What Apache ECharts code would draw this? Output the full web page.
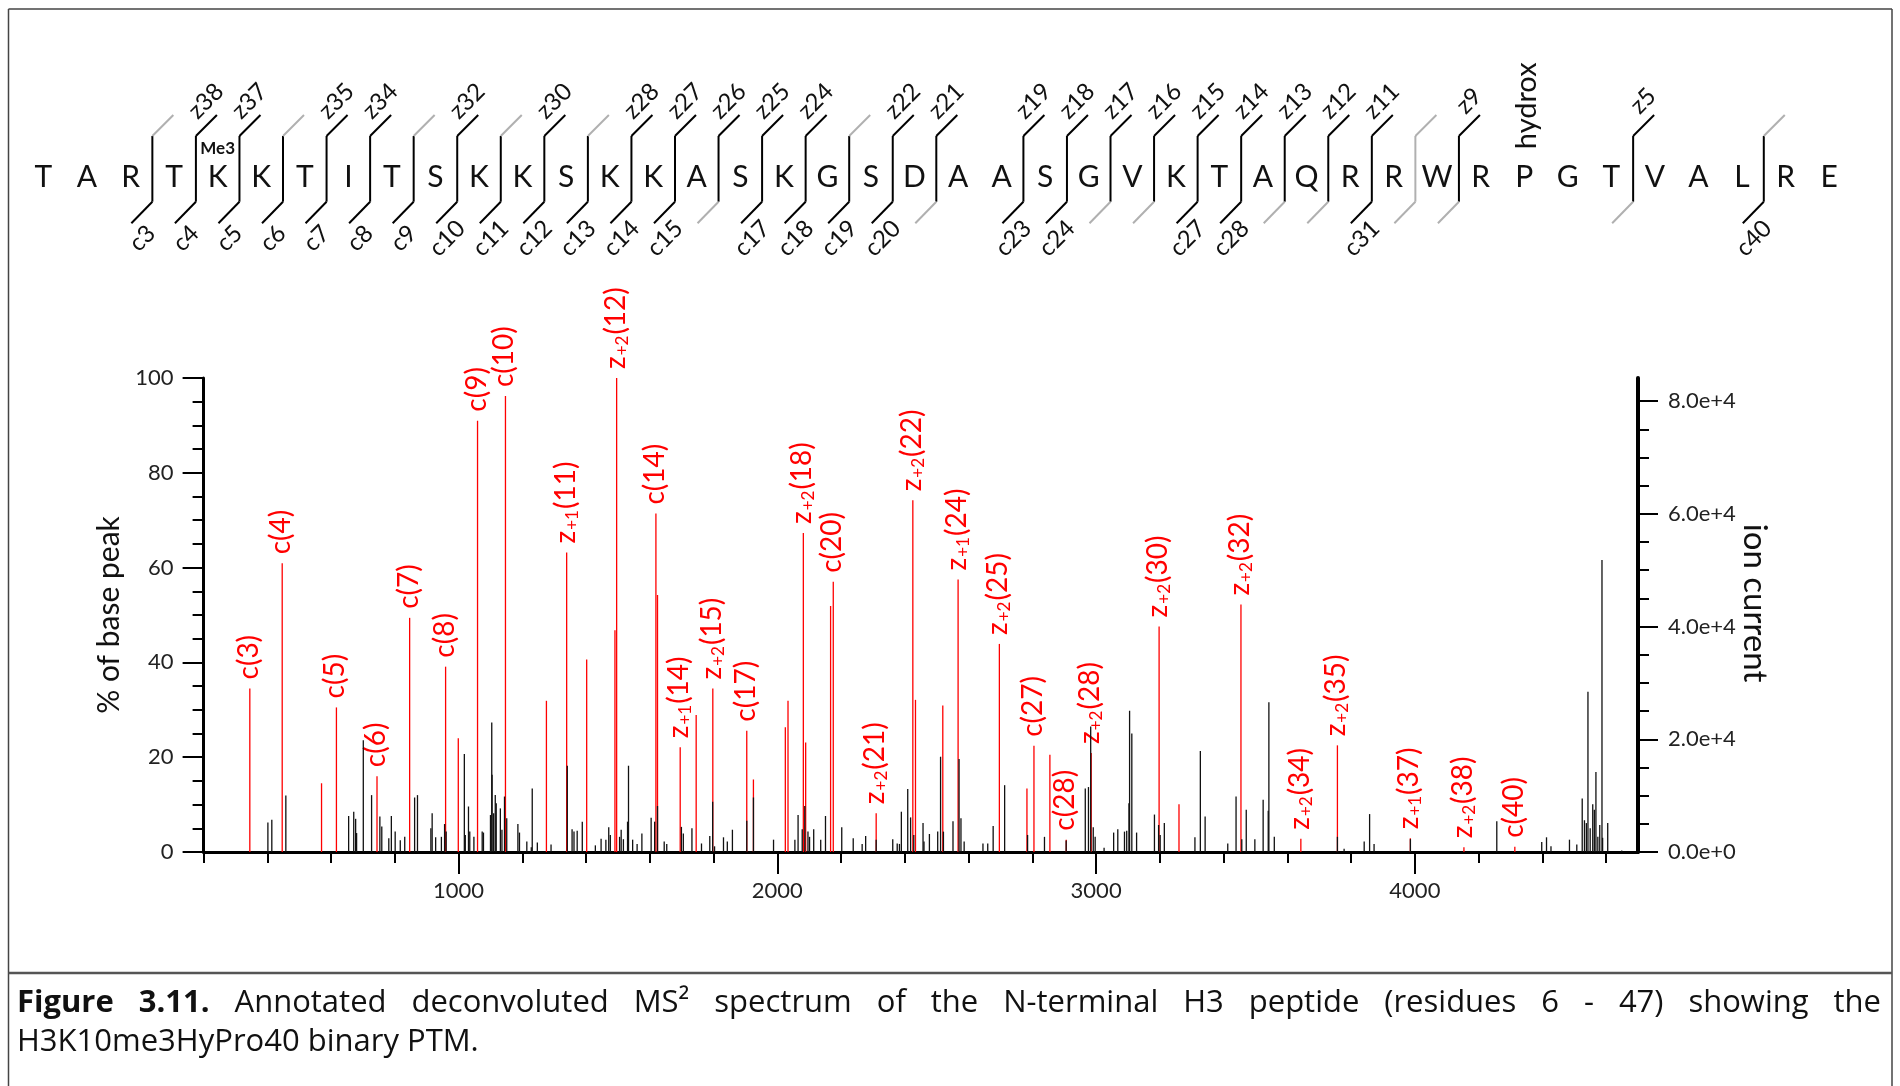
<!DOCTYPE html>
<html>
<head>
<meta charset="utf-8">
<script src="https://cdn.jsdelivr.net/npm/echarts@6/dist/echarts.min.js"></script>
<style>
  html, body { margin: 0; padding: 0; background: #fff; }
  #chart { width: 1900px; height: 1086px; }
</style>
</head>
<body>
<div id="chart"></div>
<script>
// ---- Peptide fragment map (H3 residues 6-47) ----
const residues = 'TARTKKTITSKKSKKASKGSDAASGVKTAQRRWRPGTVALRE'.split('');
const cleavageSites = [3, 4, 5, 6, 7, 8, 9, 10, 11, 12, 13, 14, 15, 16, 17, 18, 19, 20, 21,
  23, 24, 25, 26, 27, 28, 29, 30, 31, 32, 33, 37, 40];
const cIonsFound = [3, 4, 5, 6, 7, 8, 9, 10, 11, 12, 13, 14, 15, 17, 18, 19, 20, 23, 24, 27, 28, 31, 40];
const zIonsFound = [38, 37, 35, 34, 32, 30, 28, 27, 26, 25, 24, 22, 21, 19, 18, 17, 16, 15, 14, 13, 12, 11, 9, 5];
const methylSite = [5];
const methylName = ['Me3'];
const hydroxSite = [35];
const hydroxName = ['hydrox'];

// ---- Annotated (matched) peaks: m/z, % of base peak, annotation ----
const matchedMz = [345, 446.6, 570, 616.7, 744, 846.4, 959.2, 999, 1059.4, 1147, 1275.5, 1339,
  1401.8, 1490.5, 1495.8, 1619, 1624, 1695.2, 1745.3, 1797.5, 1904, 1924.9, 2025, 2033.4,
  2081.5, 2088.8, 2167, 2175.4, 2310, 2425, 2433.3, 2519, 2567, 2696.5, 2783, 2805, 2855,
  2906.3, 2984.6, 3197.6, 3260, 3454.4, 3642.3, 3757, 3985.8, 4153.9, 4313.6];
const matchedPct = [34.5, 60.9, 14.5, 30.5, 16.0, 49.4, 39.1, 24.0, 91.0, 96.2, 31.9, 63.2,
  40.6, 46.8, 100, 71.4, 54.2, 22.1, 28.9, 34.5, 25.6, 15.3, 26.3, 31.9,
  67.3, 23.1, 51.9, 57.0, 8.2, 74.2, 32.1, 30.9, 57.5, 43.9, 13.4, 22.4, 20.5,
  2.6, 20.9, 47.6, 10.1, 52.2, 2.8, 22.5, 2.9, 1.0, 1.1];
const matchedLabel = ['c(3)', 'c(4)', '', 'c(5)', 'c(6)', 'c(7)', 'c(8)', '', 'c(9)', 'c(10)', '', 'z+1(11)',
  '', '', 'z+2(12)', 'c(14)', '', 'z+1(14)', '', 'z+2(15)', 'c(17)', '', '', '',
  'z+2(18)', '', '', 'c(20)', 'z+2(21)', 'z+2(22)', '', '', 'z+1(24)', 'z+2(25)', '', 'c(27)', '',
  'c(28)', 'z+2(28)', 'z+2(30)', '', 'z+2(32)', 'z+2(34)', 'z+2(35)', 'z+1(37)', 'z+2(38)', 'c(40)'];

// ---- Unassigned peaks: m/z, % of base peak ----
const otherMz = [401.7, 414, 458, 655, 671, 677, 680, 701, 727, 753, 759, 781, 789, 801, 817, 831,
  862, 871, 913, 917, 928, 946, 956, 961, 1018, 1021, 1031, 1035, 1048, 1074, 1078, 1100,
  1104, 1105, 1110, 1115, 1118, 1131, 1136, 1144, 1151, 1186, 1191, 1214, 1228, 1231, 1247, 1290,
  1341, 1356, 1362, 1372, 1388, 1429, 1447, 1462, 1471, 1476, 1505, 1510, 1517, 1530, 1533,
  1546, 1560, 1575, 1604, 1615, 1624, 1645, 1653, 1699, 1705, 1732, 1762, 1788, 1797, 1803,
  1831, 1843, 1859, 1904, 1925, 1988, 2055, 2065, 2078, 2086, 2096, 2101, 2114, 2136, 2151,
  2202, 2238, 2266, 2277, 2310, 2362, 2376, 2383, 2389, 2409, 2418, 2428, 2457,
  2460, 2477, 2503, 2512, 2521, 2551, 2570, 2576, 2586, 2645, 2660, 2677, 2713, 2785, 2838,
  2906, 2966, 2976, 2983, 2991, 2997, 3025, 3055, 3068, 3089, 3096, 3103, 3105, 3112, 3127,
  3183, 3196, 3201, 3214, 3310, 3327, 3342, 3413, 3439, 3457, 3471, 3498, 3524, 3540, 3542, 3559,
  3757, 3778, 3841, 3858, 3872, 3986, 4257, 4398, 4413, 4427, 4485, 4508, 4525, 4532, 4538,
  4543, 4550, 4558, 4563, 4568, 4574, 4580, 4587, 4589, 4605, 4649];
const otherPct = [6.2, 6.8, 11.9, 7.6, 8.5, 7.0, 4.0, 23.6, 12.0, 7.5, 5.4, 2.9, 7.6, 4.3, 2.5, 3.2,
  11.5, 12.0, 5.0, 8.2, 3.1, 3.2, 5.9, 4.3, 20.7, 3.6, 9.6, 4.3, 3.2, 4.3, 4.1, 7.8,
  27.3, 16.3, 8.2, 12.0, 10.3, 9.2, 4.7, 11.7, 7.1, 5.9, 4.1, 2.2, 1.0, 13.4, 2.0, 1.6,
  18.2, 4.8, 4.3, 4.5, 6.4, 1.4, 2.8, 2.6, 5.2, 3.6, 3.2, 4.7, 2.7, 6.4, 18.2,
  2.6, 1.7, 3.9, 7.2, 6.4, 9.7, 2.2, 1.7, 5.3, 3.9, 5.0, 1.8, 3.4, 10.6, 1.2,
  3.1, 2.2, 4.7, 6.6, 11.5, 2.6, 2.6, 7.8, 4.8, 9.7, 4.3, 3.2, 4.8, 2.6, 7.6,
  5.2, 2.9, 1.7, 3.4, 2.6, 2.7, 1.8, 1.7, 8.5, 13.3, 7.3, 3.6, 6.1,
  2.2, 3.8, 4.3, 20.1, 4.3, 6.5, 19.6, 7.1, 2.2, 1.8, 1.8, 5.5, 14.1, 3.6, 3.2,
  2.4, 13.4, 13.7, 26.5, 5.2, 3.2, 0.9, 4.1, 4.8, 4.3, 4.5, 10.3, 29.8, 25.0, 4.1,
  7.9, 5.7, 3.6, 6.1, 3.1, 21.3, 7.5, 1.8, 11.7, 2.7, 8.9, 2.7, 11.0, 8.7, 31.6, 3.2,
  3.2, 0.7, 2.2, 8.0, 1.7, 2.7, 6.5, 2.1, 3.1, 1.2, 2.6, 1.6, 11.3, 6.7, 6.1,
  33.8, 5.0, 10.1, 8.9, 16.9, 3.2, 5.7, 61.6, 3.0, 6.1, 0.3];

// ---- Axis ticks and labels ----
const mzMin = 200, mzMax = 4700;
const mzMinorTicks = [200, 400, 600, 800, 1000, 1200, 1400, 1600, 1800, 2000, 2200, 2400,
  2600, 2800, 3000, 3200, 3400, 3600, 3800, 4000, 4200, 4400, 4600];
const mzTickLabels = [1000, 2000, 3000, 4000];
const pctTickLabels = [0, 20, 40, 60, 80, 100];
const currentMax = 84100;
const currentMinorTicks = [0, 5000, 10000, 15000, 20000, 25000, 30000, 35000, 40000,
  45000, 50000, 55000, 60000, 65000, 70000, 75000, 80000];
const currentTickLabels = [0, 20000, 40000, 60000, 80000];

const captionLine1 = ['Figure', '3.11.', 'Annotated', 'deconvoluted', 'MS\u00B2', 'spectrum', 'of', 'the',
  'N-terminal', 'H3', 'peptide', '(residues', '6', '-', '47)', 'showing', 'the'];
const captionLine2 = 'H3K10me3HyPro40 binary PTM.';

// ---- Styling ----
const SANS = 'Lato, "Open Sans", sans-serif';
const CAPTION_FONT = '"Open Sans", "Noto Sans", sans-serif';
const RED = '#ff0000';
const INK = '#111';

const chart = echarts.init(document.getElementById('chart'), null, { renderer: 'canvas' });

// Turn "z+2(12)" into rich text with the charge state as a subscript
function annotationRich(label) {
  const m = /^z\+(\d)\((\d+)\)$/.exec(label);
  if (m) return '{z|z}{s|+' + m[1] + '}{n|(' + m[2] + ')}';
  return '{n|' + label + '}';
}

function stickRenderer(color, labels) {
  return function (params, api) {
    const mz = api.value(0), pct = api.value(1);
    const base = api.coord([mz, 0]);
    const top = api.coord([mz, pct]);
    const children = [{
      type: 'line',
      shape: { x1: base[0], y1: base[1], x2: top[0], y2: top[1] },
      style: { stroke: color, lineWidth: 1.3 }
    }];
    const label = labels ? labels[params.dataIndex] : '';
    if (label) {
      children.push({
        type: 'text',
        x: top[0] - 1,
        y: top[1] - 9,
        rotation: Math.PI / 2,
        style: {
          text: annotationRich(label),
          align: 'left',
          verticalAlign: 'middle',
          fill: RED,
          rich: {
            z: { fontFamily: SANS, fontSize: 28, fill: RED, lineHeight: 30 },
            s: { fontFamily: SANS, fontSize: 17, fill: RED, lineHeight: 30, verticalAlign: 'bottom', padding: [0, 1, 0, 1] },
            n: { fontFamily: SANS, fontSize: 28, fill: RED, lineHeight: 30 }
          }
        }
      });
    }
    return { type: 'group', children: children };
  };
}

// Fragment map geometry in axis units of the header grid
const VT = 0.612, VB = -0.601, DX = 0.482;

function cleavageRenderer(params, api) {
  const n = api.value(0);
  const zNum = residues.length - n;
  const cOk = cIonsFound.indexOf(n) >= 0;
  const zOk = zIonsFound.indexOf(zNum) >= 0;
  const on = '#000', off = '#b0b0b0';
  const p = (x, y) => api.coord([x, y]);
  const vx = n + 0.5;
  const vTop = p(vx, VT), vBot = p(vx, VB);
  const zEnd = p(vx + DX, 1), cEnd = p(vx - DX, -1);
  const children = [
    { type: 'line', shape: { x1: vTop[0], y1: vTop[1], x2: vBot[0], y2: vBot[1] },
      style: { stroke: (cOk || zOk) ? on : off, lineWidth: 2 } },
    { type: 'line', shape: { x1: vTop[0], y1: vTop[1], x2: zEnd[0], y2: zEnd[1] },
      style: { stroke: zOk ? on : off, lineWidth: 2 } },
    { type: 'line', shape: { x1: vBot[0], y1: vBot[1], x2: cEnd[0], y2: cEnd[1] },
      style: { stroke: cOk ? on : off, lineWidth: 2 } }
  ];
  if (zOk) {
    children.push({ type: 'text', x: zEnd[0] - 11, y: zEnd[1] - 14, rotation: Math.PI / 4,
      style: { text: 'z' + zNum, align: 'center', verticalAlign: 'middle', fill: INK,
        font: '24px ' + SANS } });
  }
  if (cOk) {
    children.push({ type: 'text', x: cEnd[0] + 11, y: cEnd[1] + 15, rotation: Math.PI / 4,
      style: { text: 'c' + n, align: 'center', verticalAlign: 'middle', fill: INK,
        font: '24px ' + SANS } });
  }
  return { type: 'group', children: children };
}

// Caption, justified across the panel width
const measureCtx = document.createElement('canvas').getContext('2d');
function textWidth(str, font) { measureCtx.font = font; return measureCtx.measureText(str).width; }
const capLeft = 17, capRight = 1881, capSize = 31;
const boldFont = 'bold ' + capSize + 'px ' + CAPTION_FONT;
const normFont = capSize + 'px ' + CAPTION_FONT;
const wordFonts = captionLine1.map((w, i) => (i < 2 ? boldFont : normFont));
const wordWidths = captionLine1.map((w, i) => textWidth(w, wordFonts[i]));
const gap = (capRight - capLeft - wordWidths.reduce((a, b) => a + b, 0)) / (captionLine1.length - 1);
const captionGraphics = [];
let cx = capLeft;
captionLine1.forEach((w, i) => {
  captionGraphics.push({ type: 'text', x: cx, y: 1003,
    style: { text: w, font: wordFonts[i], fill: '#111', align: 'left', verticalAlign: 'middle' } });
  cx += wordWidths[i] + gap;
});
captionGraphics.push({ type: 'text', x: capLeft, y: 1042,
  style: { text: captionLine2, font: normFont, fill: '#111', align: 'left', verticalAlign: 'middle' } });

const frameStyle = { stroke: '#444', lineWidth: 1.5 };
const frameGraphics = [
  { type: 'line', shape: { x1: 8.5, y1: 9, x2: 1892, y2: 9 }, style: frameStyle },
  { type: 'line', shape: { x1: 8.5, y1: 9, x2: 8.5, y2: 1086 }, style: frameStyle },
  { type: 'line', shape: { x1: 1892, y1: 9, x2: 1892, y2: 1086 }, style: frameStyle },
  { type: 'line', shape: { x1: 8.5, y1: 973, x2: 1892, y2: 973 }, style: { stroke: '#555', lineWidth: 2.5 } },
  // right-hand axis title
  { type: 'text', x: 1755, y: 603, rotation: -Math.PI / 2,
    style: { text: 'ion current', font: '33px ' + SANS, fill: '#111', align: 'center', verticalAlign: 'middle' } }
];

const plotRect = { left: 203.6, top: 378, width: 1434.4, height: 474, outerBoundsMode: 'none' };
const axisInk = '#000';
const labelStyle = { color: '#222', fontFamily: SANS, fontSize: 22 };

const option = {
  animation: false,
  backgroundColor: '#fff',
  grid: [
    Object.assign({}, plotRect),
    Object.assign({}, plotRect),
    { left: 21.7, top: 115, width: 1829.2, height: 108.3, outerBoundsMode: 'none' }
  ],
  xAxis: [
    { type: 'value', gridIndex: 0, min: mzMin, max: mzMax, splitLine: { show: false },
      axisLine: { show: true, lineStyle: { color: axisInk, width: 3 } },
      axisTick: { show: true, customValues: mzMinorTicks, length: 11, lineStyle: { color: axisInk, width: 2 } },
      axisLabel: { show: false } },
    { type: 'value', gridIndex: 1, min: mzMin, max: mzMax, splitLine: { show: false },
      axisLine: { show: false },
      axisTick: { show: true, customValues: mzTickLabels, length: 22, lineStyle: { color: axisInk, width: 2 } },
      axisLabel: Object.assign({ show: true, customValues: mzTickLabels, margin: 28,
        formatter: v => String(v) }, labelStyle) },
    { type: 'value', gridIndex: 2, min: 0.5, max: residues.length + 0.5, show: false }
  ],
  yAxis: [
    { type: 'value', gridIndex: 0, position: 'left', min: 0, max: 100, interval: 5, splitLine: { show: false },
      axisLine: { show: true, lineStyle: { color: axisInk, width: 3 } },
      axisTick: { show: true, length: 11, lineStyle: { color: axisInk, width: 2 } },
      axisLabel: { show: false } },
    { type: 'value', gridIndex: 0, position: 'right', min: 0, max: currentMax, splitLine: { show: false },
      axisLine: { show: true, lineStyle: { color: axisInk, width: 4 } },
      axisTick: { show: true, customValues: currentMinorTicks, length: 11, lineStyle: { color: axisInk, width: 2 } },
      axisLabel: { show: false } },
    { type: 'value', gridIndex: 1, position: 'left', min: 0, max: 100, splitLine: { show: false },
      axisLine: { show: false },
      axisTick: { show: true, customValues: pctTickLabels, length: 21, lineStyle: { color: axisInk, width: 2 } },
      axisLabel: Object.assign({ show: true, customValues: pctTickLabels, margin: 30 }, labelStyle),
      name: '% of base peak', nameLocation: 'middle', nameGap: 66,
      nameTextStyle: { fontFamily: SANS, fontSize: 30, color: '#111' } },
    { type: 'value', gridIndex: 1, position: 'right', min: 0, max: currentMax, splitLine: { show: false },
      axisLine: { show: false },
      axisTick: { show: true, customValues: currentTickLabels, length: 20, lineStyle: { color: axisInk, width: 2 } },
      axisLabel: Object.assign({ show: true, customValues: currentTickLabels, margin: 30,
        formatter: v => (v === 0 ? '0.0e+0' : (v / 10000).toFixed(1) + 'e+4') }, labelStyle) },
    { type: 'value', gridIndex: 2, min: -1, max: 1, show: false }
  ],
  graphic: { elements: frameGraphics.concat(captionGraphics) },
  series: [
    { type: 'custom', name: 'matched', xAxisIndex: 0, yAxisIndex: 0, silent: true,
      renderItem: stickRenderer(RED, matchedLabel),
      data: matchedMz.map((m, i) => [m, matchedPct[i]]) },
    { type: 'custom', name: 'unassigned', xAxisIndex: 0, yAxisIndex: 0, silent: true,
      renderItem: stickRenderer('#111', null),
      data: otherMz.map((m, i) => [m, otherPct[i]]) },
    { type: 'custom', name: 'sequence', xAxisIndex: 2, yAxisIndex: 4, silent: true,
      renderItem: function (params, api) {
        const pt = api.coord([api.value(0), -0.15]);
        return { type: 'text', x: pt[0], y: pt[1],
          style: { text: residues[params.dataIndex], align: 'center', verticalAlign: 'middle',
            fill: INK, font: '30px ' + SANS } };
      },
      data: residues.map((r, i) => [i + 1]) },
    { type: 'custom', name: 'fragments', xAxisIndex: 2, yAxisIndex: 4, silent: true,
      renderItem: cleavageRenderer,
      data: cleavageSites.map(n => [n]) },
    { type: 'custom', name: 'methylation', xAxisIndex: 2, yAxisIndex: 4, silent: true,
      renderItem: function (params, api) {
        const pt = api.coord([api.value(0), 0.372]);
        return { type: 'text', x: pt[0], y: pt[1],
          style: { text: methylName[params.dataIndex], align: 'center', verticalAlign: 'middle',
            fill: INK, font: 'bold 17px ' + SANS } };
      },
      data: methylSite.map(s => [s]) },
    { type: 'custom', name: 'hydroxylation', xAxisIndex: 2, yAxisIndex: 4, silent: true,
      renderItem: function (params, api) {
        const pt = api.coord([api.value(0) + 0.05, 1.17]);
        return { type: 'text', x: pt[0], y: pt[1], rotation: Math.PI / 2,
          style: { text: hydroxName[params.dataIndex], align: 'center', verticalAlign: 'middle',
            fill: INK, font: '29px ' + SANS } };
      },
      data: hydroxSite.map(s => [s]) }
  ]
};

chart.setOption(option);
</script>
</body>
</html>
